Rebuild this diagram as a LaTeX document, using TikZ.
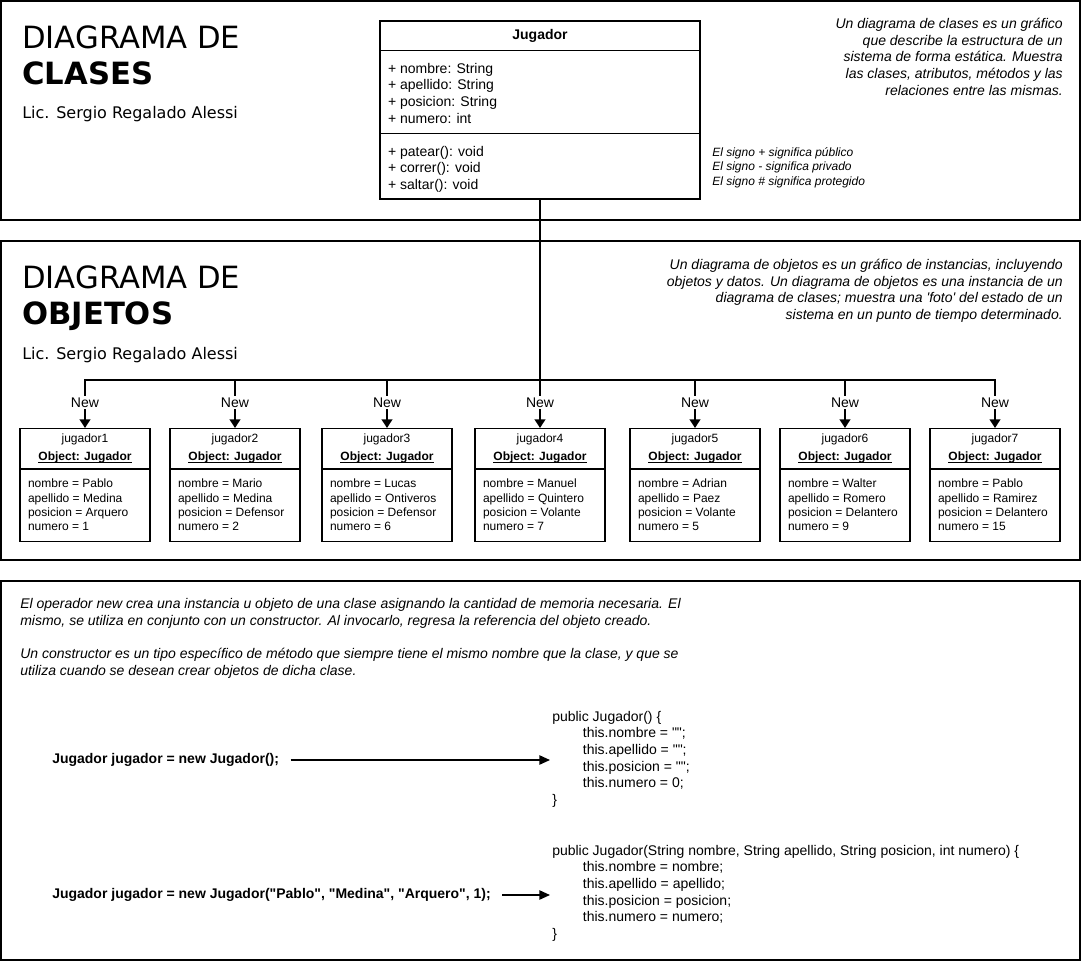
\documentclass[tikz,border=0pt]{standalone}
\usepackage{fontspec}
\setmainfont{Liberation Sans}
\newfontfamily\titlefont{DejaVu Sans}
\usepackage{tikz}
\usetikzlibrary{positioning}
\usetikzlibrary{shapes.multipart}
\usetikzlibrary{arrows.meta}

\newsavebox{\objulbox}
\newcommand{\objuline}[1]{\leavevmode\sbox{\objulbox}{#1}\rlap{\rule[-2pt]{\wd\objulbox}{0.8pt}}\usebox{\objulbox}}
\newcommand{\objhead}[1]{\parbox[c][29.25pt][c]{97.5pt}{\centering #1\\[2.5pt]\objuline{\textbf{Object: Jugador}}\par\vspace{1pt}}}
\newcommand{\objattr}[4]{\parbox[c][53.25pt][c]{97.5pt}{\leftskip=6pt nombre = #1\\apellido = #2\\posicion = #3\\numero = #4}}
\newcommand{\q}{\textquotedbl}

\begin{document}
\begin{tikzpicture}[x=0.75pt,y=-0.75pt,
    panel/.style={draw,line width=1.1pt},
    title/.style={anchor=north west,inner sep=0pt,align=left,font=\titlefont\fontsize{23}{27}\selectfont},
    author/.style={anchor=base west,inner sep=0pt,font=\titlefont\fontsize{12}{14}\selectfont},
    desc/.style={anchor=north east,inner sep=0pt,align=right,font=\itshape\fontsize{10.5}{12.5}\selectfont},
    signs/.style={anchor=north west,inner sep=0pt,align=left,font=\itshape\fontsize{9}{10.9}\selectfont},
    classbox/.style={rectangle split,rectangle split parts=3,draw,line width=1pt,inner sep=0pt,font=\fontsize{10.5}{12.6}\selectfont},
    objbox/.style={rectangle split,rectangle split parts=2,draw,line width=1pt,inner sep=0pt,font=\fontsize{9}{10.75}\selectfont},
    trunk/.style={line width=2.2pt},
    bus/.style={line width=1.5pt,line cap=rect},
    newarr/.style={line width=1.5pt,-{Triangle[length=6.5pt,width=8pt]}},
    newlbl/.style={fill=white,inner sep=1pt,pos=0.47,font=\fontsize{10.5}{12}\selectfont},
    para/.style={anchor=north west,inner sep=0pt,align=left,font=\itshape\fontsize{10.5}{12.5}\selectfont},
    call/.style={anchor=west,inner sep=0pt,font=\bfseries\fontsize{10.5}{12.6}\selectfont},
    code/.style={anchor=north west,inner sep=0pt,align=left,font=\fontsize{10.5}{12.4}\selectfont},
    callarr/.style={line width=1.1pt,-{Triangle[length=8pt,width=7pt]},shorten <=8.5pt,shorten >=1.5pt}]
    \useasboundingbox (0, 0) rectangle (1081, 962);
    \draw [panel] (1, 1) rectangle (1080, 220);
    \draw [panel] (1, 241) rectangle (1080, 560);
    \draw [panel] (1, 581) rectangle (1080, 960);

    \node (t1) at (22, 25) [title] {DIAGRAMA DE\\\textbf{CLASES}};
    \node (a1) at (22, 119) [author] {Lic. Sergio Regalado Alessi};
    \node (d1) at (1063, 18) [desc] {Un diagrama de clases es un gráfico\\que describe la estructura de un\\sistema de forma estática. Muestra\\las clases, atributos, métodos y las\\relaciones entre las mismas.};
    \node (jug) at (540, 110) [classbox] {\parbox[c][21pt][c]{240pt}{\centering\textbf{Jugador}}
        \nodepart{two}\parbox[c][61.5pt][c]{240pt}{\vspace*{2pt}\leftskip=6pt + nombre: String\\+ apellido: String\\+ posicion: String\\+ numero: int}
        \nodepart{three}\parbox[c][48pt][c]{240pt}{\vspace*{4.5pt}\leftskip=6pt + patear(): void\\+ correr(): void\\+ saltar(): void}};
    \node (sig) at (712, 147) [signs] {El signo + significa público\\El signo - significa privado\\El signo \# significa protegido};

    \node (t2) at (22, 265) [title] {DIAGRAMA DE\\\textbf{OBJETOS}};
    \node (a2) at (22, 359) [author] {Lic. Sergio Regalado Alessi};
    \node (d2) at (1063, 259) [desc] {Un diagrama de objetos es un gráfico de instancias, incluyendo\\objetos y datos. Un diagrama de objetos es una instancia de un\\diagrama de clases; muestra una \textquotesingle foto\textquotesingle{} del estado de un\\sistema en un punto de tiempo determinado.};

    \node [objbox] (o1) at (85, 485) {\objhead{jugador1}\nodepart{two}\objattr{Pablo}{Medina}{Arquero}{1}};
    \node [objbox] (o2) at (235, 485) {\objhead{jugador2}\nodepart{two}\objattr{Mario}{Medina}{Defensor}{2}};
    \node [objbox] (o3) at (387, 485) {\objhead{jugador3}\nodepart{two}\objattr{Lucas}{Ontiveros}{Defensor}{6}};
    \node [objbox] (o4) at (540, 485) {\objhead{jugador4}\nodepart{two}\objattr{Manuel}{Quintero}{Volante}{7}};
    \node [objbox] (o5) at (695, 485) {\objhead{jugador5}\nodepart{two}\objattr{Adrian}{Paez}{Volante}{5}};
    \node [objbox] (o6) at (845, 485) {\objhead{jugador6}\nodepart{two}\objattr{Walter}{Romero}{Delantero}{9}};
    \node [objbox] (o7) at (995, 485) {\objhead{jugador7}\nodepart{two}\objattr{Pablo}{Ramirez}{Delantero}{15}};

    \coordinate (hub) at (540, 380);
    \coordinate (b1) at (85, 380);
    \coordinate (b2) at (235, 380);
    \coordinate (b3) at (387, 380);
    \coordinate (b4) at (540, 380);
    \coordinate (b5) at (695, 380);
    \coordinate (b6) at (845, 380);
    \coordinate (b7) at (995, 380);
    \draw [trunk] (jug.south) -- (hub);
    \draw [bus] (b1) -- (b7);
    \draw [newarr] (b1) to node [newlbl] {New} (o1);
    \draw [newarr] (b2) to node [newlbl] {New} (o2);
    \draw [newarr] (b3) to node [newlbl] {New} (o3);
    \draw [newarr] (b4) to node [newlbl] {New} (o4);
    \draw [newarr] (b5) to node [newlbl] {New} (o5);
    \draw [newarr] (b6) to node [newlbl] {New} (o6);
    \draw [newarr] (b7) to node [newlbl] {New} (o7);

    \node (op) at (20, 598) [para] {El operador new crea una instancia u objeto de una clase asignando la cantidad de memoria necesaria. El\\mismo, se utiliza en conjunto con un constructor. Al invocarlo, regresa la referencia del objeto creado.\\[12.5pt]Un constructor es un tipo específico de método que siempre tiene el mismo nombre que la clase, y que se\\utiliza cuando se desean crear objetos de dicha clase.};
    \node (call1) at (52, 760) [call] {Jugador jugador = new Jugador();};
    \node (code1) at (552, 711) [code] {public Jugador() \{\\\hspace*{23pt}this.nombre = \q\q;\\\hspace*{23pt}this.apellido = \q\q;\\\hspace*{23pt}this.posicion = \q\q;\\\hspace*{23pt}this.numero = 0;\\\}};
    \node (call2) at (52, 895) [call] {Jugador jugador = new Jugador(\q Pablo\q, \q Medina\q, \q Arquero\q, 1);};
    \node (code2) at (552, 845) [code] {public Jugador(String nombre, String apellido, String posicion, int numero) \{\\\hspace*{23pt}this.nombre = nombre;\\\hspace*{23pt}this.apellido = apellido;\\\hspace*{23pt}this.posicion = posicion;\\\hspace*{23pt}this.numero = numero;\\\}};
    \draw [callarr] (call1.east) -- (call1.east -| code1.west);
    \draw [callarr] (call2.east) -- (call2.east -| code2.west);
\end{tikzpicture}
\end{document}
